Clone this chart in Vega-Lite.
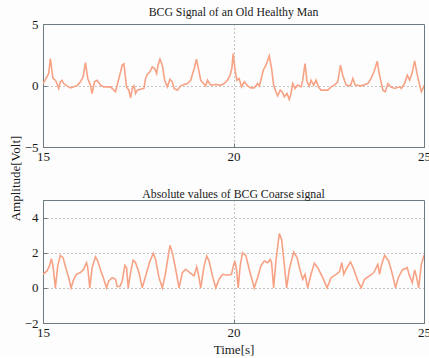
{
  "$schema": "https://vega.github.io/schema/vega-lite/v6.json",
  "padding": {"left": 8, "top": 6, "right": 0, "bottom": 0},
  "spacing": 53,
  "bounds": "flush",
  "background": "#fdfdfd",
  "datasets": {
    "bcg": [
      {"t":15.000,"v":0.16},{"t":15.105,"v":0.70},{"t":15.149,"v":0.97},{"t":15.193,"v":2.19},{"t":15.263,"v":0.57},{"t":15.325,"v":0.43},{"t":15.368,"v":0.16},{"t":15.412,"v":-0.24},{"t":15.456,"v":0.30},{"t":15.500,"v":0.43},{"t":15.544,"v":0.16},{"t":15.632,"v":-0.03},{"t":15.719,"v":-0.19},{"t":15.807,"v":-0.11},{"t":15.895,"v":-0.03},{"t":15.982,"v":0.30},{"t":16.053,"v":0.70},{"t":16.114,"v":1.86},{"t":16.175,"v":0.57},{"t":16.246,"v":0.03},{"t":16.289,"v":-0.65},{"t":16.351,"v":0.30},{"t":16.421,"v":0.43},{"t":16.509,"v":0.03},{"t":16.596,"v":-0.11},{"t":16.772,"v":-0.11},{"t":16.904,"v":-0.51},{"t":16.991,"v":0.57},{"t":17.079,"v":1.65},{"t":17.123,"v":1.76},{"t":17.193,"v":-0.11},{"t":17.254,"v":-0.38},{"t":17.298,"v":-1.00},{"t":17.342,"v":-0.24},{"t":17.386,"v":-0.03},{"t":17.430,"v":-0.65},{"t":17.474,"v":-0.38},{"t":17.561,"v":-0.30},{"t":17.649,"v":-0.24},{"t":17.693,"v":0.57},{"t":17.737,"v":0.89},{"t":17.807,"v":1.11},{"t":17.868,"v":1.51},{"t":17.930,"v":1.38},{"t":17.982,"v":0.97},{"t":18.018,"v":1.65},{"t":18.070,"v":2.14},{"t":18.132,"v":1.65},{"t":18.193,"v":0.43},{"t":18.263,"v":-0.11},{"t":18.333,"v":0.51},{"t":18.395,"v":0.30},{"t":18.439,"v":-0.24},{"t":18.526,"v":-0.38},{"t":18.614,"v":-0.03},{"t":18.702,"v":0.08},{"t":18.789,"v":0.16},{"t":18.877,"v":0.43},{"t":18.921,"v":0.89},{"t":18.982,"v":1.51},{"t":19.026,"v":2.14},{"t":19.070,"v":1.51},{"t":19.140,"v":0.43},{"t":19.211,"v":0.16},{"t":19.272,"v":-0.03},{"t":19.316,"v":0.43},{"t":19.404,"v":0.03},{"t":19.535,"v":0.08},{"t":19.667,"v":0.03},{"t":19.754,"v":0.16},{"t":19.842,"v":0.43},{"t":19.912,"v":0.84},{"t":19.956,"v":1.38},{"t":19.991,"v":2.59},{"t":20.035,"v":1.38},{"t":20.088,"v":0.43},{"t":20.149,"v":0.57},{"t":20.211,"v":-0.11},{"t":20.281,"v":0.30},{"t":20.368,"v":-0.03},{"t":20.456,"v":-0.19},{"t":20.544,"v":-0.19},{"t":20.632,"v":0.16},{"t":20.675,"v":-0.03},{"t":20.719,"v":0.43},{"t":20.781,"v":1.24},{"t":20.851,"v":1.65},{"t":20.939,"v":2.41},{"t":21.000,"v":1.38},{"t":21.053,"v":0.03},{"t":21.114,"v":-0.51},{"t":21.158,"v":-0.84},{"t":21.228,"v":-0.38},{"t":21.289,"v":-0.57},{"t":21.333,"v":-0.92},{"t":21.404,"v":-0.65},{"t":21.465,"v":-1.14},{"t":21.509,"v":-0.65},{"t":21.553,"v":0.16},{"t":21.614,"v":-0.24},{"t":21.684,"v":0.03},{"t":21.772,"v":-0.11},{"t":21.816,"v":0.43},{"t":21.877,"v":1.78},{"t":21.930,"v":0.30},{"t":21.991,"v":-0.03},{"t":22.035,"v":0.43},{"t":22.105,"v":0.03},{"t":22.167,"v":0.43},{"t":22.228,"v":-0.11},{"t":22.298,"v":-0.38},{"t":22.474,"v":-0.38},{"t":22.561,"v":-0.11},{"t":22.649,"v":0.03},{"t":22.737,"v":0.30},{"t":22.807,"v":1.65},{"t":22.868,"v":0.84},{"t":22.956,"v":0.03},{"t":23.070,"v":-0.03},{"t":23.132,"v":0.57},{"t":23.193,"v":0.03},{"t":23.351,"v":-0.03},{"t":23.526,"v":0.16},{"t":23.614,"v":0.57},{"t":23.702,"v":1.24},{"t":23.772,"v":1.97},{"t":23.833,"v":0.84},{"t":23.921,"v":-0.38},{"t":23.982,"v":-0.51},{"t":24.053,"v":0.16},{"t":24.123,"v":-0.11},{"t":24.228,"v":-0.24},{"t":24.360,"v":-0.11},{"t":24.404,"v":-0.24},{"t":24.491,"v":0.16},{"t":24.561,"v":0.84},{"t":24.623,"v":0.43},{"t":24.684,"v":0.97},{"t":24.754,"v":2.00},{"t":24.825,"v":0.84},{"t":24.886,"v":0.03},{"t":24.930,"v":-0.51},{"t":24.974,"v":-0.24},{"t":25.000,"v":0.03}
    ],
    "coarse": [
      {"t":15.000,"v":0.77},{"t":15.105,"v":0.96},{"t":15.175,"v":1.28},{"t":15.219,"v":1.66},{"t":15.263,"v":1.25},{"t":15.325,"v":0.0},{"t":15.386,"v":1.25},{"t":15.456,"v":1.85},{"t":15.526,"v":1.72},{"t":15.588,"v":1.21},{"t":15.675,"v":0.58},{"t":15.737,"v":0.0},{"t":15.807,"v":0.49},{"t":15.877,"v":0.77},{"t":15.982,"v":0.87},{"t":16.070,"v":1.06},{"t":16.140,"v":1.43},{"t":16.175,"v":1.15},{"t":16.228,"v":0.0},{"t":16.289,"v":1.15},{"t":16.377,"v":1.77},{"t":16.439,"v":1.53},{"t":16.509,"v":1.02},{"t":16.596,"v":0.49},{"t":16.667,"v":0.0},{"t":16.728,"v":0.40},{"t":16.816,"v":0.58},{"t":16.904,"v":0.49},{"t":16.947,"v":0.08},{"t":17.018,"v":0.08},{"t":17.079,"v":0.40},{"t":17.149,"v":1.28},{"t":17.193,"v":1.15},{"t":17.237,"v":0.0},{"t":17.298,"v":0.87},{"t":17.368,"v":1.58},{"t":17.430,"v":1.43},{"t":17.518,"v":0.87},{"t":17.605,"v":0.0},{"t":17.693,"v":0.68},{"t":17.807,"v":1.53},{"t":17.895,"v":1.96},{"t":17.956,"v":1.62},{"t":18.044,"v":0.58},{"t":18.132,"v":0.0},{"t":18.219,"v":0.87},{"t":18.281,"v":1.72},{"t":18.333,"v":2.42},{"t":18.395,"v":2.0},{"t":18.482,"v":1.06},{"t":18.570,"v":0.0},{"t":18.658,"v":0.87},{"t":18.746,"v":1.06},{"t":18.877,"v":0.83},{"t":18.965,"v":0.68},{"t":19.035,"v":1.19},{"t":19.079,"v":0.77},{"t":19.140,"v":0.0},{"t":19.228,"v":1.25},{"t":19.298,"v":1.81},{"t":19.360,"v":1.53},{"t":19.447,"v":0.68},{"t":19.535,"v":0.0},{"t":19.623,"v":0.49},{"t":19.711,"v":0.77},{"t":19.842,"v":0.72},{"t":19.947,"v":0.77},{"t":19.991,"v":1.21},{"t":20.035,"v":1.53},{"t":20.079,"v":1.06},{"t":20.123,"v":0.0},{"t":20.175,"v":1.25},{"t":20.237,"v":2.0},{"t":20.325,"v":1.85},{"t":20.412,"v":1.06},{"t":20.544,"v":0.0},{"t":20.632,"v":0.58},{"t":20.719,"v":1.25},{"t":20.807,"v":1.53},{"t":20.895,"v":1.43},{"t":20.965,"v":1.62},{"t":21.000,"v":1.43},{"t":21.053,"v":0.0},{"t":21.114,"v":1.53},{"t":21.202,"v":3.09},{"t":21.263,"v":2.75},{"t":21.333,"v":1.34},{"t":21.395,"v":0.0},{"t":21.465,"v":1.06},{"t":21.579,"v":2.04},{"t":21.667,"v":1.72},{"t":21.754,"v":0.96},{"t":21.816,"v":0.49},{"t":21.877,"v":0.77},{"t":21.947,"v":0.0},{"t":22.035,"v":0.77},{"t":22.123,"v":1.40},{"t":22.211,"v":1.15},{"t":22.342,"v":0.58},{"t":22.456,"v":0.0},{"t":22.561,"v":0.58},{"t":22.693,"v":0.77},{"t":22.781,"v":0.91},{"t":22.842,"v":1.43},{"t":22.895,"v":0.77},{"t":22.956,"v":1.06},{"t":23.070,"v":1.47},{"t":23.158,"v":1.06},{"t":23.263,"v":0.40},{"t":23.351,"v":0.0},{"t":23.439,"v":0.49},{"t":23.570,"v":0.68},{"t":23.684,"v":0.87},{"t":23.789,"v":1.34},{"t":23.833,"v":0.77},{"t":23.877,"v":1.25},{"t":23.965,"v":1.85},{"t":24.070,"v":1.53},{"t":24.158,"v":0.87},{"t":24.254,"v":0.0},{"t":24.325,"v":0.58},{"t":24.430,"v":1.02},{"t":24.561,"v":1.15},{"t":24.605,"v":0.77},{"t":24.693,"v":0.30},{"t":24.754,"v":1.02},{"t":24.798,"v":0.68},{"t":24.860,"v":0.0},{"t":24.930,"v":1.34},{"t":25.000,"v":1.85}
    ]
  },
  "config": {
    "font": "Liberation Serif",
    "view": {"stroke": "#6b7b80", "strokeWidth": 1},
    "title": {"font": "Liberation Serif", "fontSize": 11.8, "fontWeight": "normal", "color": "#1a1a1a", "offset": -1},
    "axis": {
      "labelFont": "Liberation Serif",
      "labelFontSize": 13,
      "labelColor": "#1a1a1a",
      "titleFont": "Liberation Serif",
      "titleFontSize": 13,
      "titleFontWeight": "normal",
      "titleColor": "#1a1a1a",
      "domainColor": "#6b7b80",
      "tickColor": "#6b7b80",
      "tickSize": -4,
      "gridColor": "#8a8a8a",
      "gridDash": [1, 3],
      "labelFlush": false,
      "labelOverlap": false
    }
  },
  "vconcat": [
    {
      "width": 381,
      "height": 123,
      "title": "BCG Signal of an Old Healthy Man",
      "data": {"name": "bcg"},
      "mark": {"type": "line", "color": "#f7a284", "strokeWidth": 1.6, "clip": true},
      "encoding": {
        "x": {"field": "t", "type": "quantitative", "scale": {"domain": [15, 25], "nice": false},
          "axis": {"values": [15, 20, 25], "title": null, "labelPadding": 7,
            "gridOpacity": {"condition": {"test": "datum.value == 25", "value": 0}, "value": 1}}},
        "y": {"field": "v", "type": "quantitative", "scale": {"domain": [-5, 5], "nice": false},
          "axis": {"values": [-5, 0, 5], "labelPadding": 9, "title": "Amplitude[Volt]",
            "titleAngle": 270, "titleX": -28, "titleY": 154, "titleAlign": "center", "titleBaseline": "middle",
            "gridOpacity": {"condition": {"test": "datum.value == 5", "value": 0}, "value": 1}}}
      }
    },
    {
      "width": 381,
      "height": 123,
      "title": "Absolute values of BCG Coarse signal",
      "data": {"name": "coarse"},
      "mark": {"type": "line", "color": "#f7a284", "strokeWidth": 1.6, "clip": true},
      "encoding": {
        "x": {"field": "t", "type": "quantitative", "scale": {"domain": [15, 25], "nice": false},
          "axis": {"values": [15, 20, 25], "title": "Time[s]", "labelPadding": 7, "titlePadding": 4,
            "gridOpacity": {"condition": {"test": "datum.value == 25", "value": 0}, "value": 1}}},
        "y": {"field": "v", "type": "quantitative", "scale": {"domain": [-2, 5], "nice": false},
          "axis": {"values": [-2, 0, 2, 4], "labelPadding": 9, "title": null}}
      }
    }
  ]
}
